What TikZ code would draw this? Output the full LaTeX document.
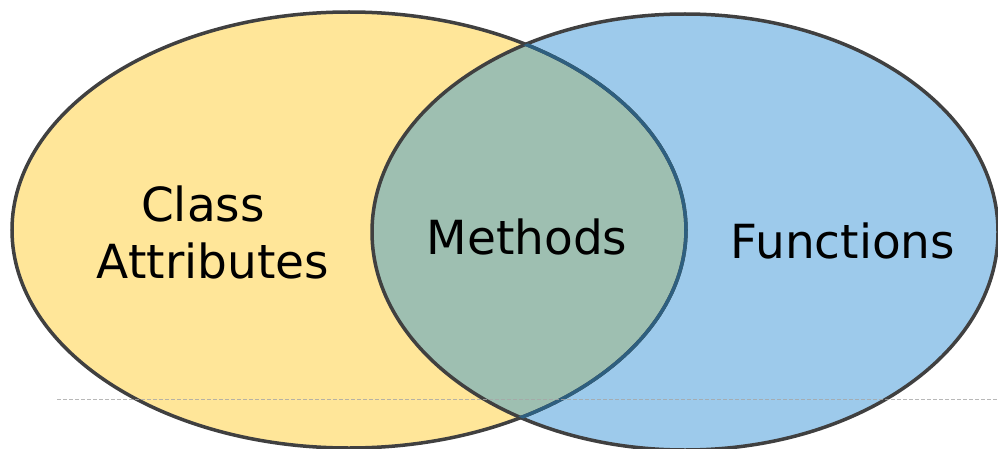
\documentclass[tikz,border=0pt]{standalone}
\usepackage{fontspec}
\setmainfont{DejaVu Sans}
\definecolor{setyellow}{HTML}{FFE699}
\definecolor{setblue}{HTML}{9DCAEB}
\definecolor{setgreen}{HTML}{9EBFB1}
\definecolor{ringgray}{HTML}{404040}
\definecolor{ringblue}{HTML}{2E5F7F}
\def\yellowset{(349,218) ellipse [x radius=337, y radius=218]}
\def\blueset{(685,216) ellipse [x radius=313, y radius=218]}
\begin{document}
\begin{tikzpicture}[x=1pt, y=1pt,
    ring/.style={line width=3.5pt, draw=ringgray},
    setname/.style={font=\fontsize{47}{57}\selectfont, align=center, text=black},
    guide/.style={gray!70, line width=1.2pt, dash pattern=on 4pt off 2pt, opacity=0.8},
]
\useasboundingbox (0,0) rectangle (998,448);
% the two sets
\fill[setyellow] \yellowset;
\fill[setblue] \blueset;
\begin{scope}
  \clip \yellowset;
  \fill[setgreen] \blueset;
\end{scope}
\draw[ring] \yellowset;
\draw[ring] \blueset;
\begin{scope}
  \clip \blueset;
  \draw[ring, draw=ringblue] \yellowset;
\end{scope}

\coordinate (guideL) at (57,48.5);
\coordinate (guideR) at (998,48.5);
\draw[guide] (guideL) -- (guideR);

\node[setname] (cls) at (213,216) {Class\hspace*{20pt}\\Attributes};
\node[setname] (mth) at (527,211) {Methods};
\node[setname] (fun) at (843,207) {Functions};
\end{tikzpicture}
\end{document}
